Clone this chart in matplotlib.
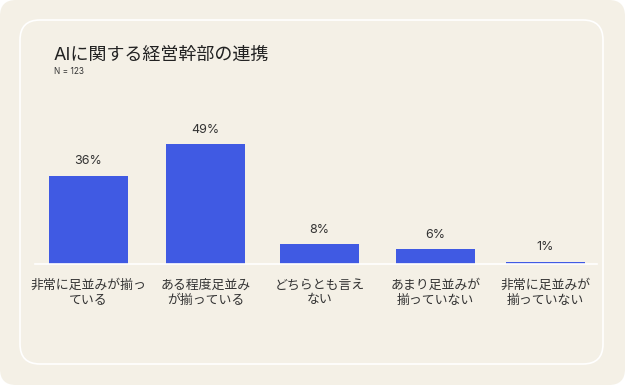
import matplotlib
matplotlib.use('Agg')
import matplotlib.pyplot as plt
from matplotlib.patches import FancyBboxPatch

'''Chart data'''
categories = ['非常に足並みが揃っ\nている', 'ある程度足並み\nが揃っている', 'どちらとも言え\nない',
              'あまり足並みが\n揃っていない', '非常に足並みが\n揃っていない']
values = [36, 49, 8, 6, 1]  # percent of respondents
labels = ['36%', '49%', '8%', '6%', '1%']
title = 'AIに関する経営幹部の連携'
subtitle = 'N = 123'

plt.rcParams['font.family'] = ['Inter', 'Noto Sans CJK JP', 'DejaVu Sans']

W, H = 625, 385
bg = '#f4f0e6'
bar_color = '#405ae3'
text_color = '#333333'

fig = plt.figure(figsize=(W / 100, H / 100), dpi=100)
fig.patch.set_facecolor('white')

'''Background card (pixel coordinates)'''
bga = fig.add_axes([0, 0, 1, 1])
bga.set_xlim(0, W)
bga.set_ylim(H, 0)
bga.axis('off')
bga.add_patch(FancyBboxPatch((0, 0), W, H, boxstyle='round,pad=0,rounding_size=16',
                             fc=bg, ec='none'))
bga.add_patch(FancyBboxPatch((20, 20), 583, 344, boxstyle='round,pad=0,rounding_size=20',
                             fc='none', ec='white', lw=1.2))

bga.text(54, 55, title, fontsize=13, color='#222222', va='center', ha='left')
bga.text(54, 72, subtitle, fontsize=6, color=text_color, va='center', ha='left')

'''Bars'''
x0, x1, ybase, ytop = 35, 597, 264, 100
ax = fig.add_axes([x0 / W, (H - ybase) / H, (x1 - x0) / W, (ybase - ytop) / H])
ax.set_facecolor('none')
ax.set_xlim(x0, x1)
ax.set_ylim(0, (ybase - ytop) / 2.45)

x_pos = [88.5, 205.5, 319.5, 435.5, 545.5]
bars = ax.bar(x_pos, values, width=79, color=bar_color)
for b, lab in zip(bars, labels):
    ax.annotate(lab, (b.get_x() + b.get_width() / 2, b.get_height()),
                xytext=(0, 6), textcoords='offset points',
                ha='center', va='bottom', fontsize=9, color=text_color)

for s in ['top', 'right', 'left']:
    ax.spines[s].set_visible(False)
ax.spines['bottom'].set_color('white')
ax.spines['bottom'].set_linewidth(1.2)
ax.set_yticks([])
ax.set_xticks(x_pos, categories, fontsize=9.3, color=text_color, linespacing=1.35)
ax.tick_params(axis='x', length=0, pad=11)

plt.savefig('out.png', dpi=100, facecolor=fig.get_facecolor())
